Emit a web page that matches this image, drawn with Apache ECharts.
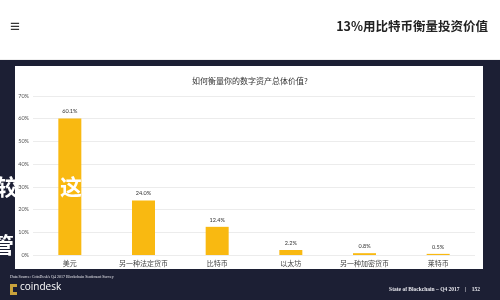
<!DOCTYPE html>
<html>
<head>
<meta charset="utf-8">
<script src="https://cdn.jsdelivr.net/npm/echarts@6/dist/echarts.min.js"></script>
<style>html,body{margin:0;padding:0;background:#fff;}#c{width:500px;height:300px;}</style>
</head>
<body>
<div id="c"></div>
<script>
const categories = ['美元', '另一种法定货币', '比特币', '以太坊', '另一种加密货币', '莱特币'];
const values = [60.1, 24.0, 12.4, 2.2, 0.8, 0.5];
const yTicks = [0, 10, 20, 30, 40, 50, 60, 70];
const chartTitle = '如何衡量你的数字资产总体价值?';
const pageTitle = '13%用比特币衡量投资价值';
const sourceText = "Data Source: CoinDesk's Q4 2017 Blockchain Sentiment Survey";
const footerRight = 'State of Blockchain – Q4 2017    |    152';

const chart = echarts.init(document.getElementById('c'), null, {renderer: 'canvas'});
const CJK = '"Noto Sans CJK SC", "Noto Sans", sans-serif';
chart.setOption({
  animation: false,
  backgroundColor: 'transparent',
  title: {
    text: chartTitle, left: 'center', top: 72,
    textStyle: {fontSize: 8, fontWeight: 'normal', color: '#333', fontFamily: CJK}
  },
  grid: {left: 33, right: 25, top: 96, bottom: 45, containLabel: false},
  xAxis: {
    type: 'category', data: categories,
    axisLine: {show: false}, axisTick: {show: false},
    axisLabel: {fontSize: 7, color: '#444', margin: 5, fontFamily: CJK, interval: 0}
  },
  yAxis: {
    type: 'value', min: yTicks[0], max: yTicks[yTicks.length - 1], interval: 10,
    axisLine: {show: false}, axisTick: {show: false},
    axisLabel: {fontSize: 5.5, color: '#555', margin: 4, formatter: v => v + '%', fontFamily: 'Lato, sans-serif'},
    splitLine: {lineStyle: {color: '#ececec', width: 1}}
  },
  series: [{
    type: 'bar', data: values, barWidth: 23,
    itemStyle: {color: '#F9B911'},
    label: {show: true, position: 'top', distance: 4, fontSize: 5.5, color: '#333', formatter: p => p.value.toFixed(1) + '%', fontFamily: 'Lato, sans-serif'}
  }],
  graphic: [
    {type: 'rect', z: -10, shape: {x: 0, y: 0, width: 500, height: 60}, style: {fill: '#ffffff'}},
    {type: 'rect', z: -10, shape: {x: 0, y: 59, width: 500, height: 1}, style: {fill: '#eeeeee'}},
    {type: 'rect', z: -10, shape: {x: 0, y: 60, width: 500, height: 240}, style: {fill: '#1c1f34'}},
    {type: 'rect', z: -9, shape: {x: 15, y: 66, width: 468, height: 203}, style: {fill: '#ffffff'}},
    {type: 'text', z: 5, style: {text: '≡', x: 10, y: 19, fontSize: 17, fontWeight: 'bold', fill: '#333'}},
    {type: 'text', z: 5, style: {text: pageTitle, x: 488, y: 20, align: 'right', fontSize: 12.5, fontWeight: 'bold', fill: '#222', fontFamily: CJK}},
    {type: 'text', z: 5, style: {text: sourceText, x: 10, y: 275, fontSize: 4, fill: '#e8e8ee', fontFamily: '"Liberation Serif", serif'}},
    {type: 'rect', z: 5, shape: {x: 10, y: 284, width: 7, height: 11}, style: {fill: '#c9a23c'}},
    {type: 'rect', z: 6, shape: {x: 13, y: 287, width: 4, height: 5}, style: {fill: '#1c1f34'}},
    {type: 'text', z: 5, style: {text: 'coindesk', x: 20, y: 282, fontSize: 10, fill: '#ffffff', fontFamily: '"Open Sans", sans-serif'}},
    {type: 'text', z: 5, style: {text: footerRight, x: 480, y: 287, align: 'right', fontSize: 5.5, fontWeight: 'bold', fill: '#e8e8ee', fontFamily: '"Liberation Serif", serif'}},
    {type: 'text', z: 20, style: {text: '较', x: -4, y: 176, fontSize: 22, fontWeight: 'bold', fill: '#ffffff', fontFamily: CJK}},
    {type: 'text', z: 20, style: {text: '这', x: 60, y: 176, fontSize: 22, fontWeight: 'bold', fill: '#ffffff', fontFamily: CJK}},
    {type: 'text', z: 20, style: {text: '管', x: -8, y: 234, fontSize: 22, fontWeight: 'bold', fill: '#ffffff', fontFamily: CJK}}
  ]
});
</script>
</body>
</html>
